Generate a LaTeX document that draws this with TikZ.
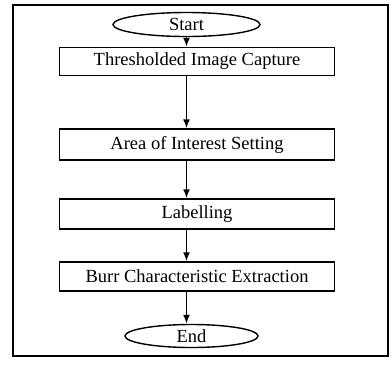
\documentclass[tikz,border=0pt]{standalone}
\usepackage{fontspec}
\setmainfont{Liberation Serif}
\usetikzlibrary{shapes.geometric,arrows.meta}
\begin{document}
\begin{tikzpicture}[x=1pt,y=-1pt,
  stepbox/.style={draw,line width=1.4pt,minimum width=275pt,minimum height=28pt,inner sep=0pt,font=\fontsize{18.5}{20}\selectfont},
  terminal/.style={draw,ellipse,line width=1.4pt,inner sep=0pt,font=\fontsize{18.5}{20}\selectfont},
  flow/.style={line width=1.7pt,-{Latex[length=9pt,width=7pt]}}]
  \useasboundingbox (0,0) rectangle (391,365);
  % outer frame
  \draw[line width=1.1pt] (13,5) rectangle (388,356);
  % terminals and steps
  \node[terminal,minimum width=147pt,minimum height=24pt] (start) at (186.5,24.5) {Start};
  \node[stepbox] (b1) at (197,61.5) {Thresholded Image Capture};
  \node[stepbox,minimum height=31pt] (b2) at (197,144.5) {Area of Interest Setting};
  \node[stepbox,minimum height=30pt] (b3) at (197,214) {Labelling};
  \node[stepbox,minimum height=29pt] (b4) at (197,276.5) {Burr Characteristic Extraction};
  \node[terminal,minimum width=133pt,minimum height=23pt] (end) at (191.5,336) {End};
  % connectors
  \draw[flow] (start) -- (start |- b1.north);
  \draw[flow] (start |- b1.south) -- (start |- b2.north);
  \draw[flow] (start |- b2.south) -- (start |- b3.north);
  \draw[flow] (start |- b3.south) -- (start |- b4.north);
  \draw[flow] (start |- b4.south) -- (start |- end.north);
\end{tikzpicture}
\end{document}
